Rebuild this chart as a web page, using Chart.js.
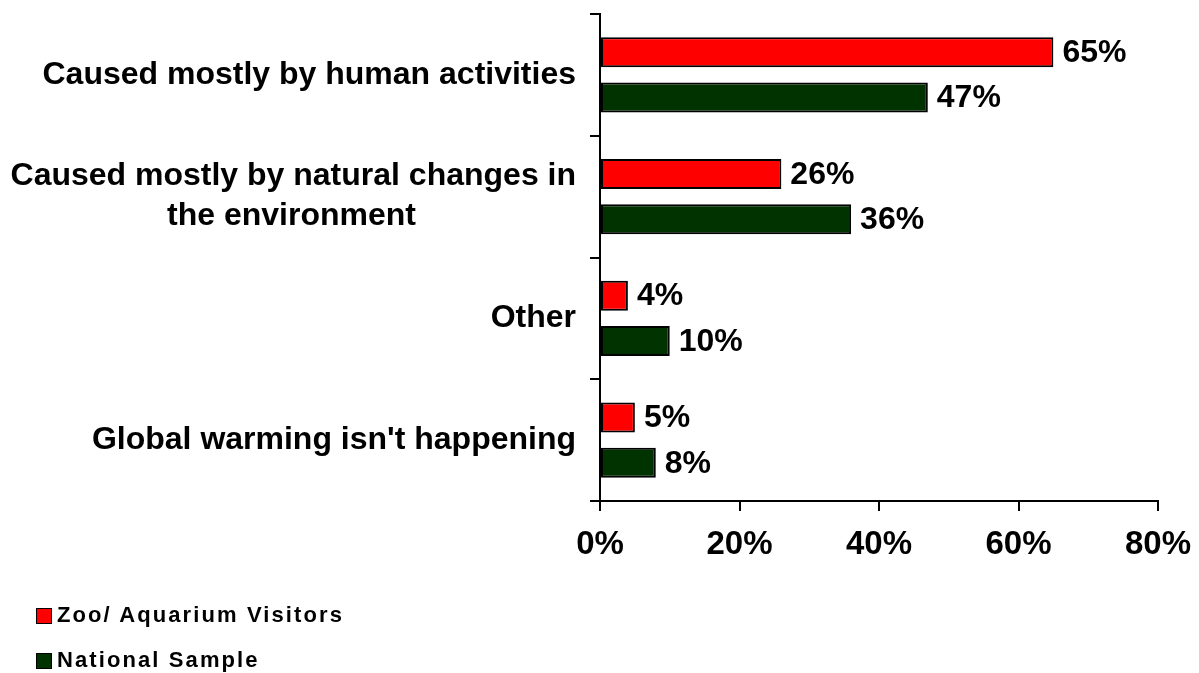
<!DOCTYPE html>
<html>
<head>
<meta charset="utf-8">
<script src="https://cdn.jsdelivr.net/npm/chart.js@4"></script>
<style>
  html, body { margin: 0; padding: 0; background: #fff; }
  #wrap { position: relative; width: 1199px; height: 673px; }
  #legend { position: absolute; left: 0; top: 0; width: 1199px; height: 673px; pointer-events: none;
            font-family: 'Liberation Sans', Arial, sans-serif; font-weight: bold; font-size: 22px; color: #000; }
  .lg-item { position: absolute; left: 36px; height: 22px; line-height: 22px; white-space: nowrap; letter-spacing: 2.1px; }
  .lg-box { position: absolute; left: 0; width: 16px; height: 16px; box-sizing: border-box; border: 1px solid #000; }
  .lg-text { position: absolute; left: 21px; top: 0; }
</style>
</head>
<body>
<div id="wrap">
  <canvas id="c"></canvas>
  <div id="legend"></div>
</div>
<script>
const categories = [
  "Caused mostly by human activities",
  ["Caused mostly by natural changes in", "the environment                  "],
  "Other",
  "Global warming isn't happening"
];
const seriesNames = ["Zoo/ Aquarium Visitors", "National Sample"];
const zooValues = [65, 26, 4, 5];
const nationalValues = [47, 36, 10, 8];
const xTickValues = [0, 20, 40, 60, 80];
const seriesColors = ["#FF0000", "#003300"];

Chart.defaults.font.family = "'Liberation Sans', Arial, sans-serif";
Chart.defaults.font.weight = 'bold';
Chart.defaults.color = '#000';

const valueLabels = {
  id: 'valueLabels',
  afterDatasetsDraw(chart) {
    const ctx = chart.ctx;
    ctx.save();
    ctx.font = "bold 32px 'Liberation Sans', Arial, sans-serif";
    ctx.fillStyle = '#000';
    ctx.textAlign = 'left';
    ctx.textBaseline = 'middle';
    chart.data.datasets.forEach((ds, di) => {
      const meta = chart.getDatasetMeta(di);
      meta.data.forEach((bar, i) => {
        ctx.fillText(ds.data[i] + '%', bar.x + 9, bar.y + 1);
      });
    });
    ctx.restore();
  }
};

const chart = new Chart(document.getElementById('c'), {
  type: 'bar',
  data: {
    labels: categories,
    datasets: [
      { label: seriesNames[0], data: zooValues, backgroundColor: seriesColors[0], borderColor: '#000', borderWidth: 2, borderSkipped: false },
      { label: seriesNames[1], data: nationalValues, backgroundColor: seriesColors[1], borderColor: '#000', borderWidth: 2, borderSkipped: false }
    ]
  },
  options: {
    indexAxis: 'y',
    responsive: true,
    maintainAspectRatio: false,
    animation: false,
    categoryPercentage: 0.746,
    barPercentage: 0.66,
    layout: { padding: { top: 14, right: 41, bottom: 0, left: 0 } },
    plugins: { legend: { display: false }, tooltip: { enabled: false } },
    scales: {
      x: {
        min: 0, max: 80,
        afterBuildTicks(scale) { scale.ticks = xTickValues.map(v => ({ value: v })); },
        afterFit(scale) { scale.height = 172; scale.paddingLeft = 0; scale.paddingRight = 0; },
        grid: { drawOnChartArea: false, drawTicks: true, tickLength: 10, color: '#000', lineWidth: 2 },
        border: { display: true, color: '#000', width: 2 },
        ticks: { font: { size: 33, weight: 'bold' }, color: '#000', padding: 14, maxRotation: 0,
                 callback: (v) => v + '%' }
      },
      y: {
        afterFit(scale) { scale.width = 600; scale.paddingTop = 0; scale.paddingBottom = 0; },
        grid: { drawOnChartArea: false, drawTicks: true, tickLength: 10, color: '#000', lineWidth: 2, offset: true },
        border: { display: true, color: '#000', width: 2 },
        ticks: { font: { size: 32, weight: 'bold', lineHeight: 1.25 }, color: '#000', padding: 14 }
      }
    }
  },
  plugins: [valueLabels]
});

// HTML legend built from the chart's datasets
const legendEl = document.getElementById('legend');
const rowTops = [604, 649];
chart.data.datasets.forEach((ds, i) => {
  const item = document.createElement('div');
  item.className = 'lg-item';
  item.style.top = rowTops[i] + 'px';
  const box = document.createElement('span');
  box.className = 'lg-box';
  box.style.background = ds.backgroundColor;
  box.style.top = '4px';
  const txt = document.createElement('span');
  txt.className = 'lg-text';
  txt.textContent = ds.label;
  item.appendChild(box);
  item.appendChild(txt);
  legendEl.appendChild(item);
});
</script>
</body>
</html>
